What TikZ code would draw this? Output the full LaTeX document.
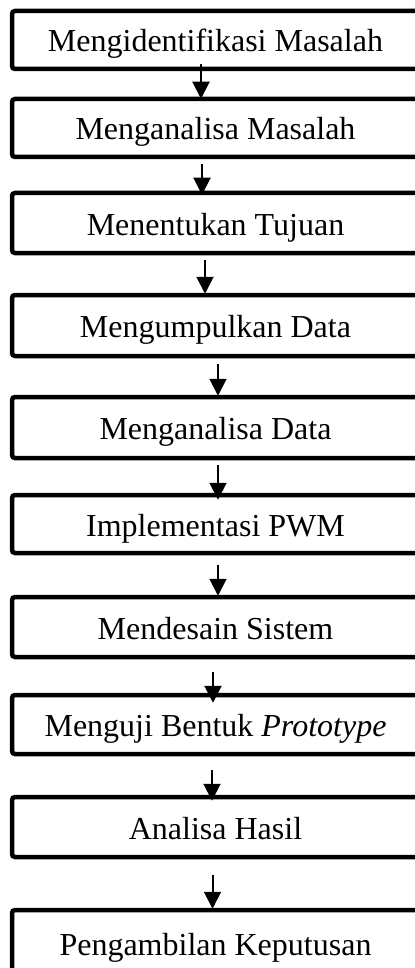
\documentclass[tikz,border=0pt]{standalone}
\usepackage{fontspec}
\setmainfont{Liberation Serif}
\usetikzlibrary{arrows.meta}

\tikzset{
  stepbox/.style={draw, line width=2.25pt, rounded corners=1.5pt, inner sep=0pt,
    minimum width=203.5pt, text height=14pt, text depth=2pt,
    font=\fontsize{16pt}{19pt}\selectfont},
  arr/.style={line width=1pt, -{Triangle[width=8.5pt,length=8.5pt]}}
}

\begin{document}
\begin{tikzpicture}[x=0.5pt,y=0.5pt]
  \useasboundingbox (0,0) rectangle (415,-968);
  \node[stepbox, minimum height=29pt] (ident) at (215.5,-40) {Mengidentifikasi Masalah};
  \node[stepbox, minimum height=29pt] (anmas) at (215.5,-128) {Menganalisa Masalah};
  \node[stepbox, minimum height=30pt] (tujuan) at (215.5,-223) {Menentukan Tujuan};
  \node[stepbox, minimum height=30.5pt] (kumpul) at (215.5,-325.5) {Mengumpulkan Data};
  \node[stepbox, minimum height=30.5pt] (andata) at (215.5,-427.5) {Menganalisa Data};
  \node[stepbox, minimum height=29pt] (pwm) at (215.5,-524) {Implementasi PWM};
  \node[stepbox, minimum height=30pt] (desain) at (215.5,-627) {Mendesain Sistem};
  \node[stepbox, minimum height=29.5pt] (uji) at (215.5,-724.5) {Menguji Bentuk \textit{Prototype}};
  \node[stepbox, minimum height=30pt] (hasil) at (215.5,-827) {Analisa Hasil};
  \node[stepbox, minimum height=33pt] (putus) at (215.5,-943) {Pengambilan Keputusan};
  % arrows between the steps, hand placed
  \draw[arr] ([shift={(-14.5,7)}]ident.south) -- ([shift={(-14.5,-2)}]anmas.north);
  \draw[arr] ([shift={(-13.5,-5)}]anmas.south) -- ([shift={(-13.5,-4)}]tujuan.north);
  \draw[arr] ([shift={(-10.5,-5)}]tujuan.south) -- ([shift={(-10.5,-1)}]kumpul.north);
  \draw[arr] ([shift={(2.5,-6)}]kumpul.south) -- ([shift={(2.5,-1)}]andata.north);
  \draw[arr] ([shift={(2.5,-5)}]andata.south) -- ([shift={(2.5,-7)}]pwm.north);
  \draw[arr] ([shift={(2.5,-10)}]pwm.south) -- ([shift={(2.5,-1)}]desain.north);
  \draw[arr] ([shift={(-2.5,-13)}]desain.south) -- ([shift={(-2.5,-10)}]uji.north);
  \draw[arr] ([shift={(-3.5,-14)}]uji.south) -- ([shift={(-3.5,-6)}]hasil.north);
  \draw[arr] ([shift={(-3,-16)}]hasil.south) -- ([shift={(-3,-1)}]putus.north);
\end{tikzpicture}
\end{document}
